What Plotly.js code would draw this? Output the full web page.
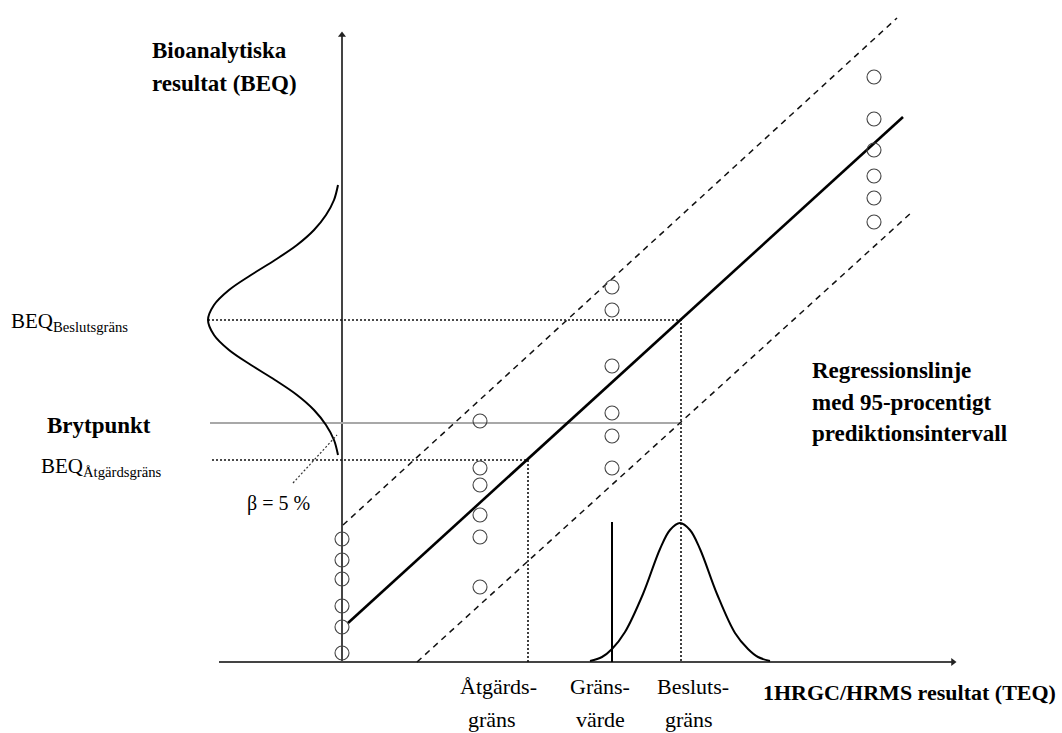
<!DOCTYPE html>
<html>
<head>
<meta charset="utf-8">
<script src="https://cdn.plot.ly/plotly-3.0.1.min.js"></script>
<style>html,body{margin:0;padding:0;background:#fff;}#chart{width:1062px;height:733px;}</style>
</head>
<body>
<div id="chart"></div>
<script>
// ---- diagram values (units: origin at axis crossing) ----
// regression line and 95% prediction interval
const regX = [6, 561];
const regY = [39, 545];
const upperX = [1, 555];
const upperY = [137, 644];
const lowerX = [75, 570];
const lowerY = [0, 450];

// reference levels
const beqBesluts = 342;     // BEQ Beslutsgräns level
const beqBryt = 239;        // Brytpunkt level
const beqAtgard = 202;      // BEQ Åtgärdsgräns level
const teqAtgard = 186;      // Åtgärdsgräns (TEQ)
const teqGrans = 270;       // Gränsvärde (TEQ)
const teqBesluts = 339;     // Beslutsgräns (TEQ)
const gransTop = 140;
const levelStart = [-134, -132, -130];

// distribution of TEQ around Beslutsgräns
const distX = [248, 260, 270, 283, 301, 318, 328, 338, 348, 358, 375, 393, 406, 416, 428];
const distY = [1, 5, 13, 30, 68, 113, 132, 139, 132, 113, 68, 29, 13, 5, 1];

// distribution of BEQ around BEQ Beslutsgräns (sideways)
const bdistY = [477, 462, 447, 432, 417, 402, 387, 372, 357, 342, 327, 312, 297, 282, 267, 252, 237, 222, 207];
const bdistX = [-4, -8, -16, -28, -45, -67, -91, -113, -128, -134, -128, -113, -91, -67, -45, -28, -16, -8, -4];

// beta pointer
const betaX = [-49, -5];
const betaY = [179, 227];

// sample points (TEQ, BEQ)
const ptsX = [0, 0, 0, 0, 0, 0,
              138, 138, 138, 138, 138, 138,
              270, 270, 270, 270, 270, 270,
              532, 532, 532, 532, 532, 532];
const ptsY = [123, 102, 83, 56, 35, 9,
              241, 194, 177, 147, 125, 75,
              375, 352, 296, 249, 226, 194,
              585, 543, 512, 486, 464, 440];

// axes extent
const axisXStart = -123, axisXEnd = 611;
const axisYEnd = 627;

// labels
const yTitle = ['Bioanalytiska', 'resultat (BEQ)'];
const xTitle = '1HRGC/HRMS resultat (TEQ)';
const regLabel = ['Regressionslinje', 'med 95-procentigt', 'prediktionsintervall'];
const tickTop = ['Åtgärds-', 'Gräns-', 'Besluts-'];
const tickBottom = ['gräns', 'värde', 'gräns'];
const beqBeslutsLabel = 'BEQ<sub>Beslutsgräns</sub>';
const beqAtgardLabel = 'BEQ<sub>Åtgärdsgräns</sub>';
const brytLabel = 'Brytpunkt';
const betaLabel = 'β = 5 %';

const SERIF = '"Liberation Serif", "DejaVu Serif", serif';
const dotted = {color: '#111', width: 1.6, dash: '2px,2px'};

const traces = [
  // axes
  {x: [0, 0], y: [0, axisYEnd], mode: 'lines', line: {color: '#444', width: 2}},
  {x: [axisXStart, axisXEnd], y: [0, 0], mode: 'lines', line: {color: '#444', width: 2}},
  // arrowheads
  {x: [0], y: [axisYEnd], mode: 'markers', marker: {symbol: 'triangle-up', size: 7, color: '#222'}},
  {x: [axisXEnd], y: [0], mode: 'markers', marker: {symbol: 'triangle-right', size: 7, color: '#222'}},
  // level lines
  {x: [levelStart[0], teqBesluts, teqBesluts], y: [beqBesluts, beqBesluts, 0], mode: 'lines', line: dotted},
  {x: [levelStart[1], teqBesluts], y: [beqBryt, beqBryt], mode: 'lines', line: {color: '#a8a8a8', width: 2}},
  {x: [levelStart[2], teqAtgard, teqAtgard], y: [beqAtgard, beqAtgard, 0], mode: 'lines', line: dotted},
  {x: [teqGrans, teqGrans], y: [0, gransTop], mode: 'lines', line: {color: '#000', width: 2}},
  // prediction interval
  {x: upperX, y: upperY, mode: 'lines', line: {color: '#111', width: 1.5, dash: '6px,5px'}},
  {x: lowerX, y: lowerY, mode: 'lines', line: {color: '#111', width: 1.5, dash: '6px,5px'}},
  // regression
  {x: regX, y: regY, mode: 'lines', line: {color: '#000', width: 2.6}},
  // distributions
  {x: distX, y: distY, mode: 'lines', line: {color: '#000', width: 2, shape: 'spline'}},
  {x: bdistX, y: bdistY, mode: 'lines', line: {color: '#000', width: 2, shape: 'spline'}},
  // beta pointer
  {x: betaX, y: betaY, mode: 'lines', line: {color: '#333', width: 1.2, dash: '2px,2px'}},
  // points
  {x: ptsX, y: ptsY, mode: 'markers', marker: {symbol: 'circle-open', size: 14, color: '#444', line: {width: 1.1, color: '#444'}}}
];

function txt(text, x, y, opts) {
  return Object.assign({
    text: text, x: x, y: y, xref: 'x', yref: 'y', showarrow: false,
    xanchor: 'left', yanchor: 'middle',
    font: {family: SERIF, size: 21, color: '#000'}
  }, opts || {});
}
const bold = s => '<b>' + s + '</b>';
const bigBold = {family: SERIF, size: 23, color: '#000'};
const tickFont = {family: SERIF, size: 22, color: '#000'};

const annotations = [
  txt(bold(yTitle[0]), -192, 612, {font: bigBold}),
  txt(bold(yTitle[1]), -192, 579, {font: bigBold}),
  txt(beqBeslutsLabel, -333, 340),
  txt(bold(brytLabel), -297, 237, {font: bigBold}),
  txt(beqAtgardLabel, -303, 195),
  txt(betaLabel, -97, 159, {font: {family: SERIF, size: 20, color: '#000'}}),
  txt(bold(regLabel[0]), 468, 292, {font: bigBold}),
  txt(bold(regLabel[1]), 468, 260, {font: bigBold}),
  txt(bold(regLabel[2]), 468, 229, {font: bigBold}),
  txt(tickTop[0], 156, -24, {xanchor: 'center', font: tickFont}),
  txt(tickTop[1], 258, -24, {xanchor: 'center', font: tickFont}),
  txt(tickTop[2], 351, -24, {xanchor: 'center', font: tickFont}),
  txt(tickBottom[0], 150, -57, {xanchor: 'center', font: tickFont}),
  txt(tickBottom[1], 258, -57, {xanchor: 'center', font: tickFont}),
  txt(tickBottom[2], 347, -57, {xanchor: 'center', font: tickFont}),
  txt(bold(xTitle), 419, -30, {font: {family: SERIF, size: 22, color: '#000'}})
];

const layout = {
  width: 1062, height: 733,
  margin: {l: 0, r: 0, t: 0, b: 0},
  paper_bgcolor: '#fff', plot_bgcolor: '#fff',
  showlegend: false,
  xaxis: {range: [-342, 720], visible: false, fixedrange: true},
  yaxis: {range: [-71, 662], visible: false, fixedrange: true},
  annotations: annotations
};

Plotly.newPlot('chart', traces, layout, {displayModeBar: false, staticPlot: true});
</script>
</body>
</html>
